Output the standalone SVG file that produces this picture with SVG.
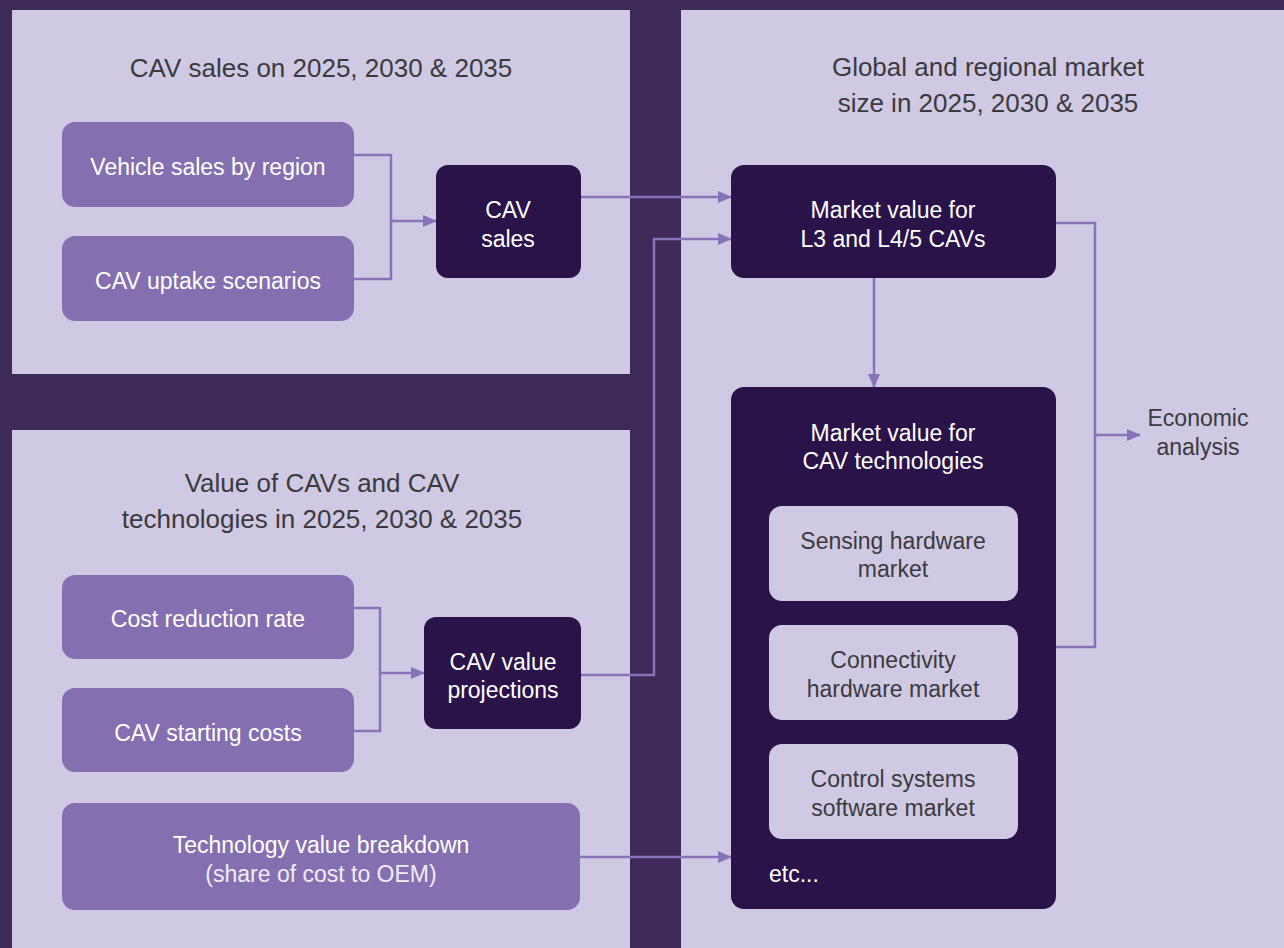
<svg xmlns="http://www.w3.org/2000/svg" width="1284" height="948" viewBox="0 0 1284 948">
  <style>
    .panel { fill: #d0c9e3; }
    .light { fill: #846fb0; }
    .dark { fill: #2a1349; }
    .sub { fill: #d0c9e3; }
    .title { font-family: "Liberation Sans", Arial, sans-serif; font-size: 26px; fill: #3a3a3e; text-anchor: middle; }
    .lbl { font-family: "Liberation Sans", Arial, sans-serif; font-size: 23px; fill: #ffffff; text-anchor: middle; }
    .lbl-thin { font-family: "Liberation Sans", Arial, sans-serif; font-size: 23px; fill: #f1edf8; text-anchor: middle; }
    .lbl-dk { font-family: "Liberation Sans", Arial, sans-serif; font-size: 23px; fill: #3a3a3e; text-anchor: middle; }
    .conn { fill: none; stroke: #8673b8; stroke-width: 2.5; }
  </style>
  <defs>
    <marker id="arrow" markerUnits="userSpaceOnUse" markerWidth="14" markerHeight="12" refX="13" refY="6" orient="auto">
      <path d="M0,0 L14,6 L0,12 z" fill="#8673b8"/>
    </marker>
  </defs>

  <!-- background and section panels -->
  <rect x="0" y="0" width="1284" height="948" fill="#3e2a58"/>
  <rect class="panel" x="12" y="10" width="618" height="364"/>
  <rect class="panel" x="12" y="430" width="618" height="518"/>
  <rect class="panel" x="681" y="10" width="603" height="938"/>

  <!-- section titles -->
  <text class="title" x="321" y="77">CAV sales on 2025, 2030 &amp; 2035</text>
  <text class="title" x="988" y="76">Global and regional market</text>
  <text class="title" x="988" y="112">size in 2025, 2030 &amp; 2035</text>
  <text class="title" x="322" y="492">Value of CAVs and CAV</text>
  <text class="title" x="322" y="528">technologies in 2025, 2030 &amp; 2035</text>

  <!-- connectors -->
  <g id="connectors">
    <path class="conn" d="M353,155 H391 V279 H353"/>
    <path class="conn" d="M391,221 H436" marker-end="url(#arrow)"/>
    <path class="conn" d="M581,197 H731" marker-end="url(#arrow)"/>
    <path class="conn" d="M581,675 H654 V239 H731" marker-end="url(#arrow)"/>
    <path class="conn" d="M874,278 V387" marker-end="url(#arrow)"/>
    <path class="conn" d="M1056,223 H1095 V647 H1056"/>
    <path class="conn" d="M1095,435 H1140" marker-end="url(#arrow)"/>
    <path class="conn" d="M353,608 H380 V731 H353"/>
    <path class="conn" d="M380,673 H424" marker-end="url(#arrow)"/>
    <path class="conn" d="M580,857 H731" marker-end="url(#arrow)"/>
  </g>

  <!-- CAV sales inputs -->
  <g id="vehicle-sales">
    <rect class="light" x="62" y="122" width="292" height="85" rx="13"/>
    <text class="lbl" x="208" y="175">Vehicle sales by region</text>
  </g>
  <g id="uptake-scenarios">
    <rect class="light" x="62" y="236" width="292" height="85" rx="13"/>
    <text class="lbl" x="208" y="289">CAV uptake scenarios</text>
  </g>
  <g id="cav-sales">
    <rect class="dark" x="436" y="165" width="145" height="113" rx="12"/>
    <text class="lbl" x="508" y="218">CAV</text>
    <text class="lbl" x="508" y="247">sales</text>
  </g>

  <!-- CAV value inputs -->
  <g id="cost-reduction">
    <rect class="light" x="62" y="575" width="292" height="84" rx="13"/>
    <text class="lbl" x="208" y="627">Cost reduction rate</text>
  </g>
  <g id="starting-costs">
    <rect class="light" x="62" y="688" width="292" height="84" rx="13"/>
    <text class="lbl" x="208" y="741">CAV starting costs</text>
  </g>
  <g id="value-projections">
    <rect class="dark" x="424" y="617" width="157" height="112" rx="12"/>
    <text class="lbl" x="503" y="670">CAV value</text>
    <text class="lbl" x="503" y="698">projections</text>
  </g>
  <g id="tech-breakdown">
    <rect class="light" x="62" y="803" width="518" height="107" rx="13"/>
    <text class="lbl" x="321" y="853">Technology value breakdown</text>
    <text class="lbl-thin" x="321" y="882">(share of cost to OEM)</text>
  </g>

  <!-- market size -->
  <g id="market-cavs">
    <rect class="dark" x="731" y="165" width="325" height="113" rx="13"/>
    <text class="lbl" x="893" y="218">Market value for</text>
    <text class="lbl" x="893" y="247">L3 and L4/5 CAVs</text>
  </g>
  <g id="market-tech">
    <rect class="dark" x="731" y="387" width="325" height="522" rx="13"/>
    <text class="lbl" x="893" y="441">Market value for</text>
    <text class="lbl" x="893" y="469">CAV technologies</text>
    <text class="lbl" x="769" y="882" text-anchor="start" style="text-anchor:start">etc...</text>
  </g>
  <g id="sensing">
    <rect class="sub" x="769" y="506" width="249" height="95" rx="13"/>
    <text class="lbl-dk" x="893" y="549">Sensing hardware</text>
    <text class="lbl-dk" x="893" y="577">market</text>
  </g>
  <g id="connectivity">
    <rect class="sub" x="769" y="625" width="249" height="95" rx="13"/>
    <text class="lbl-dk" x="893" y="668">Connectivity</text>
    <text class="lbl-dk" x="893" y="697">hardware market</text>
  </g>
  <g id="control-software">
    <rect class="sub" x="769" y="744" width="249" height="95" rx="13"/>
    <text class="lbl-dk" x="893" y="787">Control systems</text>
    <text class="lbl-dk" x="893" y="816">software market</text>
  </g>
  <g id="economic-analysis">
    <text class="lbl-dk" x="1198" y="426">Economic</text>
    <text class="lbl-dk" x="1198" y="455">analysis</text>
  </g>
</svg>
